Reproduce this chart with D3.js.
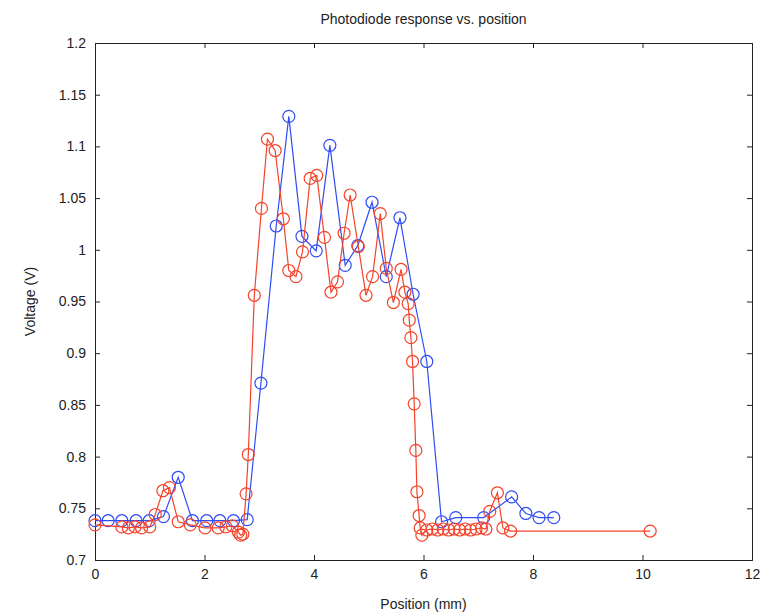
<!DOCTYPE html>
<html>
<head>
<meta charset="utf-8">
<script src="https://cdn.jsdelivr.net/npm/d3@7"></script>
<style>
  body { margin: 0; background: #fff; }
  text { font-family: "Liberation Sans", Arial, sans-serif; fill: #222; }
</style>
</head>
<body>
<div id="chart"></div>
<script>
// blue series (position mm, voltage V)
const blueX = [0, 0.24, 0.49, 0.75, 0.99, 1.25, 1.52, 1.78, 2.04, 2.28, 2.53, 2.78,
  3.03, 3.31, 3.54, 3.78, 4.04, 4.29, 4.57, 4.80, 5.06, 5.32, 5.57, 5.81, 6.06,
  6.33, 6.59, 7.10, 7.61, 7.87, 8.11, 8.38]
const blueY = [0.738, 0.738, 0.738, 0.738, 0.738, 0.742, 0.780, 0.738, 0.738, 0.738, 0.738, 0.739,
  0.871, 1.023, 1.129, 1.013, 0.999, 1.101, 0.985, 1.004, 1.046, 0.974, 1.031, 0.957, 0.892,
  0.737, 0.741, 0.741, 0.761, 0.745, 0.741, 0.741]

// red series
const redX = [0, 0.49, 0.61, 0.73, 0.85, 1.0, 1.10, 1.24, 1.36, 1.52, 1.74, 2.01, 2.25, 2.39, 2.51,
  2.62, 2.66, 2.70, 2.76, 2.80, 2.91, 3.04, 3.15, 3.29, 3.44, 3.54, 3.67, 3.79, 3.93, 4.05,
  4.19, 4.31, 4.43, 4.55, 4.66, 4.81, 4.95, 5.07, 5.21, 5.32, 5.45, 5.59, 5.66, 5.72, 5.74,
  5.77, 5.80, 5.83, 5.86, 5.88, 5.92, 5.94, 5.97, 6.06, 6.16, 6.26, 6.36, 6.46, 6.56, 6.66,
  6.76, 6.86, 6.96, 7.06, 7.14, 7.21, 7.35, 7.45, 7.59, 10.14]
const redY = [0.734, 0.732, 0.731, 0.732, 0.731, 0.732, 0.744, 0.767, 0.770, 0.737, 0.734, 0.731, 0.731, 0.732, 0.733,
  0.727, 0.724, 0.725, 0.764, 0.802, 0.956, 1.040, 1.107, 1.096, 1.030, 0.980, 0.974, 0.998, 1.069, 1.072,
  1.012, 0.959, 0.969, 1.016, 1.053, 1.003, 0.956, 0.974, 1.035, 0.982, 0.949, 0.981, 0.959, 0.948, 0.932,
  0.915, 0.892, 0.851, 0.806, 0.766, 0.743, 0.731, 0.724, 0.729, 0.730, 0.729, 0.730, 0.729, 0.730, 0.729,
  0.730, 0.729, 0.730, 0.731, 0.730, 0.747, 0.765, 0.731, 0.728, 0.728]

const xTicks = [0, 2, 4, 6, 8, 10, 12]
const yTicks = [0.7, 0.75, 0.8, 0.85, 0.9, 0.95, 1, 1.05, 1.1, 1.15, 1.2]

const width = 764
const height = 615
const margin = { top: 43, right: 12, bottom: 55, left: 95 }
const innerW = width - margin.left - margin.right
const innerH = height - margin.top - margin.bottom

const svg = d3.select('#chart')
  .append('svg')
  .attr('width', width)
  .attr('height', height)

const g = svg.append('g')
  .attr('transform', `translate(${margin.left},${margin.top})`)

const xScale = d3.scaleLinear().domain([0, 12]).range([0, innerW])
const yScale = d3.scaleLinear().domain([0.7, 1.2]).range([innerH, 0])

// axes with inward ticks, on all four sides like a matlab box
const fmt = d => String(+d.toFixed(2))
const xAxis = d3.axisBottom(xScale).tickValues(xTicks).tickSize(-5).tickPadding(9).tickFormat(fmt)
const yAxis = d3.axisLeft(yScale).tickValues(yTicks).tickSize(-5).tickPadding(9).tickFormat(fmt)
const xTop = d3.axisTop(xScale).tickValues(xTicks).tickSize(-5).tickFormat('')
const yRight = d3.axisRight(yScale).tickValues(yTicks).tickSize(-5).tickFormat('')

g.append('g').attr('transform', `translate(0,${innerH})`).call(xAxis)
g.append('g').call(yAxis)
g.append('g').call(xTop)
g.append('g').attr('transform', `translate(${innerW},0)`).call(yRight)

g.selectAll('.domain').attr('stroke', '#222').attr('stroke-width', 1)
g.selectAll('.tick line').attr('stroke', '#222')
g.selectAll('.tick text').attr('font-size', '14px').attr('fill', '#222')
  .style('font-family', '"Liberation Sans", Arial, sans-serif')

const line = d3.line()
  .x(d => xScale(d[0]))
  .y(d => yScale(d[1]))

const series = [
  { xs: blueX, ys: blueY, color: '#2f4cf5' },
  { xs: redX, ys: redY, color: '#f5432a' }
]

series.forEach(s => {
  const pts = s.xs.map((x, i) => [x, s.ys[i]])
  g.append('path')
    .datum(pts)
    .attr('fill', 'none')
    .attr('stroke', s.color)
    .attr('stroke-width', 1.2)
    .attr('d', line)

  g.selectAll(null)
    .data(pts)
    .enter()
    .append('circle')
      .attr('cx', d => xScale(d[0]))
      .attr('cy', d => yScale(d[1]))
      .attr('r', 6)
      .attr('fill', 'none')
      .attr('stroke', s.color)
      .attr('stroke-width', 1.2)
})

// title and labels
svg.append('text')
  .attr('x', margin.left + innerW / 2)
  .attr('y', 24)
  .attr('text-anchor', 'middle')
  .attr('font-size', '14px')
  .text('Photodiode response vs. position')

svg.append('text')
  .attr('x', margin.left + innerW / 2)
  .attr('y', 609)
  .attr('text-anchor', 'middle')
  .attr('font-size', '14px')
  .text('Position (mm)')

svg.append('text')
  .attr('transform', `translate(35,${margin.top + innerH / 2}) rotate(-90)`)
  .attr('text-anchor', 'middle')
  .attr('font-size', '14px')
  .text('Voltage (V)')
</script>
</body>
</html>
